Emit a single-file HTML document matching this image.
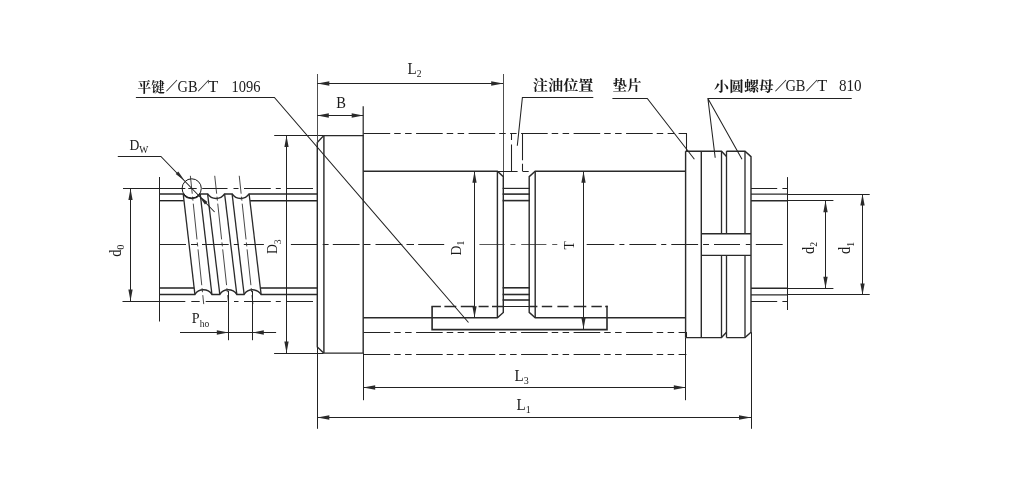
<!DOCTYPE html>
<html><head><meta charset="utf-8"><title>Ball screw nut drawing</title>
<style>html,body{margin:0;padding:0;background:#fff}svg{display:block;will-change:transform}</style></head>
<body><svg width="1015" height="493" viewBox="0 0 1015 493">
<rect width="1015" height="493" fill="#ffffff"/>
<path d="M159.2 244.5H186M191 244.5H197.7M202 244.5H228.7M233.8 244.5H238.8M243.8 244.5H263.9M290.9 244.5H317.7M322.7 244.5H328.6M332.8 244.5H359.6M363.8 244.5H370.5M375.5 244.5H402.3M406.5 244.5H414M418.2 244.5H444.2M586.7 244.5H614.3M619.4 244.5H624.4M629.4 244.5H656.2M661.2 244.5H666.3M671.3 244.5H698.1M703.1 244.5H709M714 244.5H740M745.8 244.5H750.5M755.8 244.5H782.7" stroke="#222" stroke-width="1.0" fill="none"/>
<path d="M479.4 244.5H504.5M510.4 244.5H515.4M521.2 244.5H546.4M552.2 244.5H557.3" stroke="#505050" stroke-width="0.95" fill="none"/>
<path d="M123 188.5H185.3M188.3 188.5H196.7M202.2 188.5H227.5M233.5 188.5H238.5M244 188.5H270.8M275.8 188.5H280.8M286.7 188.5H313" stroke="#222" stroke-width="1.05" fill="none"/>
<path d="M122.5 301.5H185.3M191.3 301.5H199.7M205.7 301.5H227M234 301.5H238.5M244 301.5H270.8M275.8 301.5H280.8M286.7 301.5H313" stroke="#222" stroke-width="1.05" fill="none"/>
<line x1="130.5" y1="188.5" x2="130.5" y2="301" stroke="#222" stroke-width="1.05"/>
<polygon points="130.50,188.50 132.65,200.00 128.35,200.00" fill="#2a2a2a"/>
<polygon points="130.50,301.00 128.35,289.50 132.65,289.50" fill="#2a2a2a"/>
<line x1="159.5" y1="177" x2="159.5" y2="321.5" stroke="#222" stroke-width="1.05"/>
<path d="M159.4 193.9H182.79999999999998L183.2 193.9A10.2 10.2 0 0 0 200.2 193.9L207.6 193.9A10.2 10.2 0 0 0 224.6 193.9L232.1 193.9A10.2 10.2 0 0 0 249.1 193.9H317.3" stroke="#2a2a2a" stroke-width="1.52" fill="none"/>
<path d="M159.4 294.4H194.9L194.9 294.4A10.2 10.2 0 0 1 211.9 294.4L219.8 294.4A10.2 10.2 0 0 1 236.8 294.4L244.1 294.4A10.2 10.2 0 0 1 261.1 294.4H317.3" stroke="#2a2a2a" stroke-width="1.52" fill="none"/>
<line x1="159.4" y1="200.7" x2="183.79999999999998" y2="200.7" stroke="#222" stroke-width="1.35"/>
<line x1="250.1" y1="200.7" x2="317.3" y2="200.7" stroke="#222" stroke-width="1.35"/>
<line x1="159.4" y1="288.0" x2="194.1" y2="288.0" stroke="#222" stroke-width="1.35"/>
<line x1="260.5" y1="288.0" x2="317.3" y2="288.0" stroke="#222" stroke-width="1.35"/>
<line x1="183.2" y1="193.9" x2="194.9" y2="294.4" stroke="#2a2a2a" stroke-width="1.3"/>
<line x1="200.2" y1="193.9" x2="211.9" y2="294.4" stroke="#2a2a2a" stroke-width="1.3"/>
<line x1="190.3792" y1="175.8" x2="203.816" y2="305" stroke="#333" stroke-width="0.9" stroke-dasharray="18 3 4 3 36 3 4 3 36 3 4 3 9"/>
<line x1="207.6" y1="193.9" x2="219.8" y2="294.4" stroke="#2a2a2a" stroke-width="1.3"/>
<line x1="224.6" y1="193.9" x2="236.8" y2="294.4" stroke="#2a2a2a" stroke-width="1.3"/>
<line x1="214.72275555555555" y1="175.8" x2="228.7337777777778" y2="305" stroke="#333" stroke-width="0.9" stroke-dasharray="18 3 4 3 36 3 4 3 36 3 4 3 9"/>
<line x1="232.1" y1="193.9" x2="244.1" y2="294.4" stroke="#2a2a2a" stroke-width="1.3"/>
<line x1="249.1" y1="193.9" x2="261.1" y2="294.4" stroke="#2a2a2a" stroke-width="1.3"/>
<line x1="239.24533333333332" y1="175.8" x2="253.02666666666667" y2="305" stroke="#333" stroke-width="0.9" stroke-dasharray="18 3 4 3 36 3 4 3 36 3 4 3 9"/>
<circle cx="191.7" cy="188.4" r="9.6" fill="none" stroke="#1a1a1a" stroke-width="1.0"/>
<path d="M117.8 156.5H160.9L214.6 212" stroke="#222" stroke-width="1.05" fill="none"/>
<polygon points="184.60,180.70 175.69,174.01 178.29,171.51" fill="#2a2a2a"/>
<polygon points="198.60,195.30 207.51,201.99 204.91,204.49" fill="#2a2a2a"/>
<line x1="228.5" y1="291" x2="228.5" y2="340.2" stroke="#222" stroke-width="1.05"/>
<line x1="252.5" y1="291" x2="252.5" y2="340.2" stroke="#222" stroke-width="1.05"/>
<line x1="180" y1="332.5" x2="276.1" y2="332.5" stroke="#222" stroke-width="1.05"/>
<polygon points="228.30,332.50 216.80,334.65 216.80,330.35" fill="#2a2a2a"/>
<polygon points="252.30,332.50 263.80,330.35 263.80,334.65" fill="#2a2a2a"/>
<line x1="274.2" y1="135.5" x2="323.5" y2="135.5" stroke="#222" stroke-width="1.05"/>
<line x1="274.1" y1="353.5" x2="323.5" y2="353.5" stroke="#222" stroke-width="1.05"/>
<line x1="286.5" y1="135.4" x2="286.5" y2="353.1" stroke="#222" stroke-width="1.05"/>
<polygon points="286.50,135.40 288.65,146.90 284.35,146.90" fill="#2a2a2a"/>
<polygon points="286.50,353.10 284.35,341.60 288.65,341.60" fill="#2a2a2a"/>
<path d="M317.3 142.6L323.7 135.6H363.2V353.1H323.7L317.3 346.9Z" stroke="#2a2a2a" stroke-width="1.42" fill="none"/>
<line x1="323.9" y1="135.6" x2="323.9" y2="353.1" stroke="#2a2a2a" stroke-width="1.42"/>
<line x1="317.5" y1="74" x2="317.5" y2="142.6" stroke="#444" stroke-width="0.95"/>
<line x1="317.5" y1="346.9" x2="317.5" y2="428.8" stroke="#222" stroke-width="1.05"/>
<line x1="363.2" y1="106.2" x2="363.2" y2="135.6" stroke="#222" stroke-width="1.2"/>
<line x1="363.5" y1="353.1" x2="363.5" y2="400.2" stroke="#222" stroke-width="1.05"/>
<line x1="317.3" y1="83.5" x2="503.2" y2="83.5" stroke="#222" stroke-width="1.05"/>
<polygon points="317.30,83.50 329.30,81.35 329.30,85.65" fill="#2a2a2a"/>
<polygon points="503.20,83.50 491.20,85.65 491.20,81.35" fill="#2a2a2a"/>
<line x1="503.5" y1="74" x2="503.5" y2="176.5" stroke="#444" stroke-width="0.95"/>
<line x1="317.3" y1="115.5" x2="363.2" y2="115.5" stroke="#222" stroke-width="1.05"/>
<polygon points="317.30,115.50 328.80,113.35 328.80,117.65" fill="#2a2a2a"/>
<polygon points="363.20,115.50 351.70,117.65 351.70,113.35" fill="#2a2a2a"/>
<path d="M363.2 171.3H497.4L503.3 176.6V312.4L497.4 317.8H363.2" stroke="#2a2a2a" stroke-width="1.42" fill="none"/>
<line x1="497.4" y1="171.3" x2="497.4" y2="317.8" stroke="#2a2a2a" stroke-width="1.42"/>
<path d="M685.6 171.3H535.2L529.2 176.6V312.4L535.2 317.8H685.6" stroke="#2a2a2a" stroke-width="1.42" fill="none"/>
<line x1="535.2" y1="171.3" x2="535.2" y2="317.8" stroke="#2a2a2a" stroke-width="1.42"/>
<line x1="502.6" y1="188.4" x2="529.9" y2="188.4" stroke="#2a2a2a" stroke-width="1.2"/>
<line x1="502.6" y1="194.1" x2="529.9" y2="194.1" stroke="#2a2a2a" stroke-width="1.6"/>
<line x1="502.6" y1="200.6" x2="529.9" y2="200.6" stroke="#2a2a2a" stroke-width="1.6"/>
<line x1="502.6" y1="287.8" x2="529.9" y2="287.8" stroke="#2a2a2a" stroke-width="1.6"/>
<line x1="502.6" y1="294.5" x2="529.9" y2="294.5" stroke="#2a2a2a" stroke-width="1.6"/>
<line x1="502.6" y1="300.0" x2="529.9" y2="300.0" stroke="#2a2a2a" stroke-width="1.6"/>
<path d="M363.6 133.5H686.5V151.2" stroke="#222" stroke-width="1.05" fill="none" stroke-dasharray="26.6 4 6.5 4.4 6.5 4.5"/>
<path d="M363.6 332.5H686.5V337.6" stroke="#222" stroke-width="1.05" fill="none" stroke-dasharray="26.6 4 6.5 4.4 6.5 4.5"/>
<path d="M363.6 354.5H686.4" stroke="#222" stroke-width="1.05" fill="none" stroke-dasharray="26.6 4 6.5 4.4 6.5 4.5"/>
<line x1="511.5" y1="133.2" x2="511.5" y2="171.3" stroke="#222" stroke-width="1.05" stroke-dasharray="6.8 4.5 100"/>
<line x1="522.5" y1="133.2" x2="522.5" y2="171.3" stroke="#222" stroke-width="1.05" stroke-dasharray="27 3.5 8 1"/>
<line x1="497.4" y1="171.5" x2="517.6" y2="171.5" stroke="#222" stroke-width="1.05"/>
<line x1="522.6" y1="171.5" x2="528.7" y2="171.5" stroke="#222" stroke-width="1.05"/>
<path d="M593.3 97.5H522.4L517.3 145.8" stroke="#222" stroke-width="1.05" fill="none"/>
<path d="M432.1 306.4V329.6H607V317.8" stroke="#2a2a2a" stroke-width="1.6199999999999999" fill="none"/>
<path d="M431.4 306.4H440.9M444.4 306.4H456.3M460.8 306.4H474.2M478.6 306.4H488.6M492 306.4H503.8" stroke="#2a2a2a" stroke-width="1.52" fill="none"/>
<path d="M529.2 306.4H537.4M541.8 306.4H552.2M557.4 306.4H568.5M573.7 306.4H586.3M591.4 306.4H601.8M605.2 306.4H607.7" stroke="#2a2a2a" stroke-width="1.52" fill="none"/>
<line x1="607" y1="305.7" x2="607" y2="317.8" stroke="#2a2a2a" stroke-width="1.52"/>
<line x1="503.3" y1="306.5" x2="529.2" y2="306.5" stroke="#222" stroke-width="1.05"/>
<path d="M135.9 97.5H274.4L468.5 322.5" stroke="#222" stroke-width="1.05" fill="none"/>
<line x1="474.5" y1="171.3" x2="474.5" y2="317.8" stroke="#222" stroke-width="1.05"/>
<polygon points="474.50,171.30 476.65,182.80 472.35,182.80" fill="#2a2a2a"/>
<polygon points="474.50,317.80 472.35,306.30 476.65,306.30" fill="#2a2a2a"/>
<line x1="583.5" y1="171.3" x2="583.5" y2="329.6" stroke="#222" stroke-width="1.05"/>
<polygon points="583.50,171.30 585.65,182.80 581.35,182.80" fill="#2a2a2a"/>
<polygon points="583.50,329.00 581.35,317.50 585.65,317.50" fill="#2a2a2a"/>
<path d="M685.6 151.2H721.5L726.5 156.6M726.5 151.2H745L751 156.6V332.2L745 337.6H726.5M726.5 332.2L721.5 337.6H685.6" stroke="#2a2a2a" stroke-width="1.42" fill="none"/>
<line x1="685.6" y1="151.2" x2="685.6" y2="337.6" stroke="#2a2a2a" stroke-width="1.42"/>
<line x1="701.3" y1="151.2" x2="701.3" y2="337.6" stroke="#2a2a2a" stroke-width="1.42"/>
<line x1="721.5" y1="151.2" x2="721.5" y2="233.8" stroke="#2a2a2a" stroke-width="1.3199999999999998"/>
<line x1="721.5" y1="255.4" x2="721.5" y2="337.6" stroke="#2a2a2a" stroke-width="1.3199999999999998"/>
<line x1="726.5" y1="151.2" x2="726.5" y2="233.8" stroke="#2a2a2a" stroke-width="1.3199999999999998"/>
<line x1="726.5" y1="255.4" x2="726.5" y2="337.6" stroke="#2a2a2a" stroke-width="1.3199999999999998"/>
<line x1="745" y1="151.2" x2="745" y2="233.8" stroke="#2a2a2a" stroke-width="1.3199999999999998"/>
<line x1="745" y1="255.4" x2="745" y2="337.6" stroke="#2a2a2a" stroke-width="1.3199999999999998"/>
<line x1="701.3" y1="233.8" x2="751" y2="233.8" stroke="#2a2a2a" stroke-width="1.42"/>
<line x1="701.3" y1="255.4" x2="751" y2="255.4" stroke="#2a2a2a" stroke-width="1.42"/>
<path d="M612.4 98.5H647.3L694.4 159.3" stroke="#222" stroke-width="1.05" fill="none"/>
<path d="M851.7 98.5H707.9L715.2 157.8M707.9 98.5L742 159.3" stroke="#222" stroke-width="1.05" fill="none"/>
<line x1="685.5" y1="337.6" x2="685.5" y2="400.2" stroke="#222" stroke-width="1.05"/>
<line x1="751.5" y1="332.2" x2="751.5" y2="428.8" stroke="#222" stroke-width="1.05"/>
<line x1="363.2" y1="387.5" x2="685.8" y2="387.5" stroke="#222" stroke-width="1.05"/>
<polygon points="363.20,387.50 375.20,385.35 375.20,389.65" fill="#2a2a2a"/>
<polygon points="685.80,387.50 673.80,389.65 673.80,385.35" fill="#2a2a2a"/>
<line x1="317.3" y1="417.5" x2="751" y2="417.5" stroke="#222" stroke-width="1.05"/>
<polygon points="317.30,417.50 329.30,415.35 329.30,419.65" fill="#2a2a2a"/>
<polygon points="751.00,417.50 739.00,419.65 739.00,415.35" fill="#2a2a2a"/>
<path d="M751 188.5H777.2M782.4 188.5H787" stroke="#222" stroke-width="1.05" fill="none"/>
<path d="M751 301.5H777.2M782.4 301.5H787" stroke="#222" stroke-width="1.05" fill="none"/>
<line x1="787.5" y1="177.1" x2="787.5" y2="310" stroke="#222" stroke-width="1.05"/>
<line x1="751" y1="194.1" x2="787" y2="194.1" stroke="#2a2a2a" stroke-width="1.42"/>
<line x1="787" y1="194.5" x2="869.7" y2="194.5" stroke="#222" stroke-width="1.05"/>
<line x1="751" y1="200.7" x2="787" y2="200.7" stroke="#2a2a2a" stroke-width="1.42"/>
<line x1="787" y1="200.5" x2="833.4" y2="200.5" stroke="#222" stroke-width="1.05"/>
<line x1="751" y1="288.2" x2="787" y2="288.2" stroke="#2a2a2a" stroke-width="1.42"/>
<line x1="787" y1="288.5" x2="833.4" y2="288.5" stroke="#222" stroke-width="1.05"/>
<line x1="751" y1="294.9" x2="787" y2="294.9" stroke="#2a2a2a" stroke-width="1.42"/>
<line x1="787" y1="294.5" x2="869.7" y2="294.5" stroke="#222" stroke-width="1.05"/>
<line x1="825.5" y1="200.7" x2="825.5" y2="288.2" stroke="#222" stroke-width="1.05"/>
<polygon points="825.50,200.70 827.65,212.20 823.35,212.20" fill="#2a2a2a"/>
<polygon points="825.50,288.20 823.35,276.70 827.65,276.70" fill="#2a2a2a"/>
<line x1="862.5" y1="194.1" x2="862.5" y2="294.9" stroke="#222" stroke-width="1.05"/>
<polygon points="862.50,194.10 864.65,205.60 860.35,205.60" fill="#2a2a2a"/>
<polygon points="862.50,294.90 860.35,283.40 864.65,283.40" fill="#2a2a2a"/>
<g font-family="'Liberation Serif','Noto Serif CJK SC',serif" fill="#1a1a1a">
<text x="0" y="0" font-size="14.6" font-weight="700" textLength="27.2" lengthAdjust="spacingAndGlyphs" stroke="#1a1a1a" stroke-width="0" transform="translate(137.6 92.4) scale(1 0.93)">平键</text>
<text x="0" y="0" font-size="11.5" font-weight="normal" stroke="#1a1a1a" stroke-width="0.3" transform="translate(166.1 91.4) scale(1 1.05)">／</text>
<text x="177.6" y="92.1" font-size="16.3" font-weight="normal" textLength="20.0" lengthAdjust="spacingAndGlyphs">GB</text>
<text x="0" y="0" font-size="11.5" font-weight="normal" stroke="#1a1a1a" stroke-width="0.3" transform="translate(197.8 91.4) scale(1 1.05)">／</text>
<text x="208.0" y="92.1" font-size="16.3" font-weight="normal" textLength="10.3" lengthAdjust="spacingAndGlyphs">T</text>
<text x="231.4" y="92.1" font-size="16.3" font-weight="normal" textLength="29.0" lengthAdjust="spacingAndGlyphs">1096</text>
<text x="0" y="0" font-size="15.2" font-weight="700" stroke="#1a1a1a" stroke-width="0" transform="translate(532.8 90.0) scale(1 0.93)">注油位置</text>
<text x="0" y="0" font-size="14.5" font-weight="700" stroke="#1a1a1a" stroke-width="0" transform="translate(612.6 90.0) scale(1 0.93)">垫片</text>
<text x="0" y="0" font-size="15" font-weight="700" textLength="59.8" lengthAdjust="spacingAndGlyphs" stroke="#1a1a1a" stroke-width="0" transform="translate(714.0 91.2) scale(1 0.93)">小圆螺母</text>
<text x="0" y="0" font-size="11.5" font-weight="normal" stroke="#1a1a1a" stroke-width="0.3" transform="translate(774.9 91.0) scale(1 1.05)">／</text>
<text x="785.4" y="90.9" font-size="16.1" font-weight="normal" textLength="20.1" lengthAdjust="spacingAndGlyphs">GB</text>
<text x="0" y="0" font-size="11.5" font-weight="normal" stroke="#1a1a1a" stroke-width="0.3" transform="translate(805.9 91.0) scale(1 1.05)">／</text>
<text x="817.3" y="90.9" font-size="16.1" font-weight="normal" textLength="10.0" lengthAdjust="spacingAndGlyphs">T</text>
<text x="839.0" y="90.9" font-size="16.1" font-weight="normal" textLength="22.6" lengthAdjust="spacingAndGlyphs">810</text>
<text x="0" y="0" font-size="15" text-anchor="start" font-weight="normal" transform="translate(129.4 150.2) scale(0.91 1)">D<tspan font-size="10.5" dy="3">W</tspan></text>
<text x="0" y="0" font-size="16.5" text-anchor="start" font-weight="normal" transform="translate(407.5 73.6) scale(0.91 1)">L<tspan font-size="10.5" dy="3.6">2</tspan></text>
<text x="0" y="0" font-size="16" text-anchor="start" font-weight="normal" transform="translate(336.3 107.7) scale(0.91 1)">B</text>
<text x="0" y="0" font-size="16.5" text-anchor="start" font-weight="normal" transform="translate(514.6 381.1) scale(0.91 1)">L<tspan font-size="11" dy="2.8">3</tspan></text>
<text x="0" y="0" font-size="16.5" text-anchor="start" font-weight="normal" transform="translate(516.5 409.7) scale(0.91 1)">L<tspan font-size="11" dy="3.2">1</tspan></text>
<text x="0" y="0" font-size="15.5" text-anchor="start" font-weight="normal" transform="translate(191.8 322.5) scale(0.91 1)">P<tspan font-size="10.5" dy="4">ho</tspan></text>
<text x="0" y="0" font-size="16" text-anchor="start" font-weight="normal" transform="translate(120.5 256.8) rotate(-90) scale(0.91 1)">d<tspan font-size="10.5" dy="3.4">0</tspan></text>
<text x="0" y="0" font-size="15" text-anchor="start" font-weight="normal" transform="translate(277.2 254) rotate(-90) scale(0.91 1)">D<tspan font-size="10.5" dy="3.6">3</tspan></text>
<text x="0" y="0" font-size="15" text-anchor="start" font-weight="normal" transform="translate(460.7 255.4) rotate(-90) scale(0.91 1)">D<tspan font-size="10.5" dy="3.6">1</tspan></text>
<text x="0" y="0" font-size="15" text-anchor="start" font-weight="normal" transform="translate(574 249.6) rotate(-90) scale(0.91 1)">T</text>
<text x="0" y="0" font-size="16" text-anchor="start" font-weight="normal" transform="translate(813.6 254.0) rotate(-90) scale(0.91 1)">d<tspan font-size="10.5" dy="3.6">2</tspan></text>
<text x="0" y="0" font-size="16" text-anchor="start" font-weight="normal" transform="translate(850.3 254.0) rotate(-90) scale(0.91 1)">d<tspan font-size="10.5" dy="3.6">1</tspan></text>
</g>
</svg></body></html>
